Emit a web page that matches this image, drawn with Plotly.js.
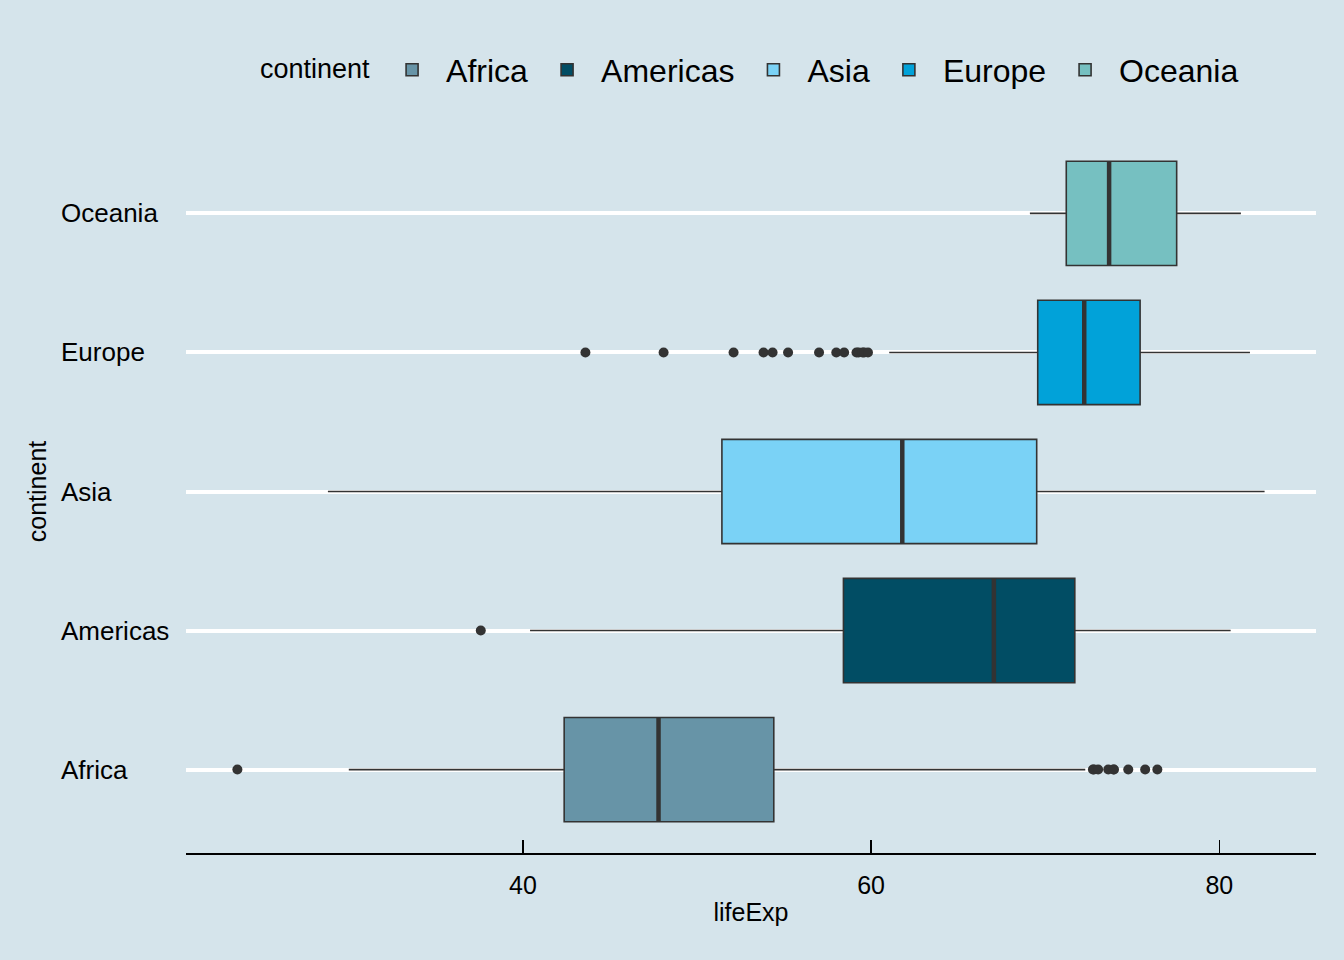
<!DOCTYPE html>
<html>
<head>
<meta charset="utf-8">
<script src="https://cdn.plot.ly/plotly-3.0.1.min.js"></script>
<style>html,body{margin:0;padding:0;background:#d5e4eb;}#chart{width:1344px;height:960px;}</style>
</head>
<body>
<div id="chart"></div>
<script>
// Categories (bottom to top)
const continents = ["Africa", "Americas", "Asia", "Europe", "Oceania"];
const colors = ["#6794a7", "#014d64", "#7ad2f6", "#01a2d9", "#76c0c1"];

// Box statistics (lifeExp)
const q1Vals     = [42.37, 58.41, 51.43, 69.57, 71.21];
const medianVals = [47.79, 67.05, 61.79, 72.24, 73.67];
const q3Vals     = [54.41, 71.70, 69.51, 75.45, 77.55];
const lowerWhisk = [30.00, 40.41, 28.80, 61.04, 69.12];
const upperWhisk = [72.30, 80.65, 82.60, 81.76, 81.24];

// Outliers per continent
const africaOutliers   = [23.60, 72.74, 72.80, 73.04, 73.62, 73.92, 73.95, 74.77, 75.74, 76.44];
const americasOutliers = [37.58];
const asiaOutliers     = [];
const europeOutliers   = [43.59, 48.08, 52.10, 53.82, 54.34, 55.23, 57.01, 58.00, 58.45, 59.16, 59.28, 59.51, 59.60, 59.82];
const oceaniaOutliers  = [];
const outlierSets = [africaOutliers, americasOutliers, asiaOutliers, europeOutliers, oceaniaOutliers];

const xTicks = [40, 60, 80];
const boxWidth = 0.75;

const traces = [];
continents.forEach((c, i) => {
  traces.push({
    type: "box",
    orientation: "h",
    name: c,
    y: [i],
    q1: [q1Vals[i]],
    median: [medianVals[i]],
    q3: [q3Vals[i]],
    lowerfence: [lowerWhisk[i]],
    upperfence: [upperWhisk[i]],
    width: boxWidth,
    whiskerwidth: 0,
    fillcolor: colors[i],
    line: {color: "#333333", width: 1.6},
    boxpoints: false,
    hoverinfo: "skip",
    showlegend: true
  });
});
// thick median lines
continents.forEach((c, i) => {
  traces.push({
    type: "scatter",
    mode: "lines",
    x: [medianVals[i], medianVals[i]],
    y: [i - boxWidth / 2, i + boxWidth / 2],
    line: {color: "#333333", width: 4.5},
    showlegend: false,
    hoverinfo: "skip"
  });
});
// outliers
const ox = [], oy = [];
outlierSets.forEach((arr, i) => arr.forEach(v => { ox.push(v); oy.push(i); }));
traces.push({
  type: "scatter",
  mode: "markers",
  x: ox,
  y: oy,
  marker: {color: "#333333", size: 10},
  showlegend: false,
  hoverinfo: "skip"
});

const annotations = continents.map((c, i) => ({
  xref: "paper", yref: "y",
  x: -0.1125, y: i,
  xanchor: "left", yanchor: "middle",
  text: c, showarrow: false,
  font: {family: "Liberation Sans, Arial, sans-serif", size: 26, color: "#000000"}
}));

const layout = {
  width: 1344, height: 960,
  paper_bgcolor: "#d5e4eb",
  plot_bgcolor: "#d5e4eb",
  font: {family: "Liberation Sans, Arial, sans-serif", color: "#000000"},
  margin: {l: 186, r: 28, t: 130, b: 107, autoexpand: false},
  boxmode: "overlay",
  showlegend: true,
  legend: {
    orientation: "h",
    x: 0.5, xanchor: "center",
    y: 1.083, yanchor: "middle",
    bgcolor: "rgba(0,0,0,0)",
    itemwidth: 58,
    font: {size: 32, color: "#000000"},
    title: {text: "continent", side: "left", font: {size: 27, color: "#000000"}},
    traceorder: "normal"
  },
  xaxis: {
    range: [20.649, 85.553],
    tickvals: xTicks,
    ticktext: xTicks.map(String),
    ticks: "inside",
    ticklen: 13,
    tickwidth: 1.5,
    tickcolor: "#000000",
    ticklabelstandoff: 9,
    layer: "above traces",
    showline: true,
    linecolor: "#000000",
    linewidth: 2,
    showgrid: false,
    zeroline: false,
    tickfont: {size: 25, color: "#000000"},
    title: {text: "lifeExp", font: {size: 25, color: "#000000"}, standoff: 5},
    fixedrange: true
  },
  yaxis: {
    range: [-0.6, 4.6],
    tickvals: [0, 1, 2, 3, 4],
    ticktext: ["", "", "", "", ""],
    showticklabels: false,
    ticks: "",
    showgrid: true,
    gridcolor: "#ffffff",
    gridwidth: 4,
    zeroline: false,
    showline: false,
    title: {text: "continent", font: {size: 25, color: "#000000"}, standoff: 131},
    fixedrange: true
  },
  annotations: annotations
};

Plotly.newPlot("chart", traces, layout, {displayModeBar: false, staticPlot: true});
</script>
</body>
</html>
